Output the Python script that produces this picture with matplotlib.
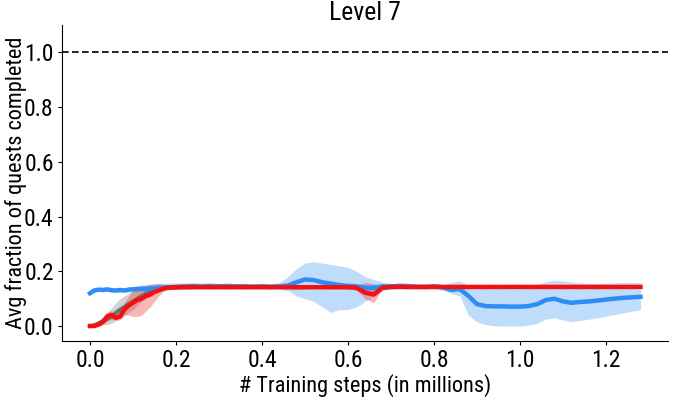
import matplotlib
matplotlib.use("Agg")
import matplotlib.pyplot as plt
import numpy as np

plt.rcParams['font.family'] = ['Roboto Condensed', 'DejaVu Sans']

steps = [0.00, 0.01, 0.02, 0.03, 0.04, 0.05, 0.06, 0.07, 0.08, 0.09, 0.10, 0.11, 0.12, 0.13, 0.14,
         0.15, 0.16, 0.17, 0.18, 0.20, 0.22, 0.24, 0.26, 0.28, 0.30, 0.32, 0.34, 0.36, 0.38, 0.40,
         0.42, 0.44, 0.46, 0.48, 0.50, 0.52, 0.54, 0.56, 0.58, 0.60, 0.62, 0.64, 0.66, 0.68, 0.70,
         0.72, 0.74, 0.76, 0.78, 0.80, 0.82, 0.84, 0.86, 0.88, 0.90, 0.92, 0.94, 0.96, 0.98, 1.00,
         1.02, 1.04, 1.06, 1.08, 1.10, 1.12, 1.14, 1.16, 1.18, 1.20, 1.22, 1.24, 1.26, 1.28]

gray_mean = [0.000, 0.003, 0.010, 0.018, 0.025, 0.035, 0.048, 0.060, 0.070, 0.080, 0.090, 0.100, 0.110, 0.118, 0.125,
             0.130, 0.135, 0.138, 0.140, 0.141, 0.142, 0.142, 0.143, 0.142, 0.143, 0.142, 0.143, 0.142, 0.143, 0.143,
             0.142, 0.143, 0.142, 0.141, 0.142, 0.142, 0.143, 0.142, 0.142, 0.142, 0.141, 0.140, 0.138, 0.141, 0.142,
             0.143, 0.142, 0.143, 0.142, 0.143, 0.142, 0.142, 0.143, 0.142, 0.143, 0.142, 0.143, 0.142, 0.143, 0.143,
             0.142, 0.143, 0.142, 0.143, 0.142, 0.143, 0.142, 0.143, 0.142, 0.143, 0.142, 0.143, 0.142, 0.143]
gray_lo = [0.000, 0.000, 0.002, 0.005, 0.005, 0.010, 0.020, 0.030, 0.040, 0.050, 0.060, 0.075, 0.090, 0.100, 0.110,
           0.118, 0.125, 0.130, 0.132, 0.134, 0.135, 0.136, 0.137, 0.136, 0.137, 0.136, 0.137, 0.137, 0.137, 0.137,
           0.136, 0.137, 0.136, 0.135, 0.136, 0.136, 0.137, 0.136, 0.136, 0.135, 0.132, 0.128, 0.128, 0.134, 0.136,
           0.137, 0.136, 0.137, 0.136, 0.137, 0.136, 0.136, 0.137, 0.136, 0.137, 0.136, 0.137, 0.136, 0.137, 0.137,
           0.136, 0.137, 0.136, 0.137, 0.136, 0.137, 0.136, 0.137, 0.136, 0.137, 0.136, 0.137, 0.136, 0.137]
gray_hi = [0.002, 0.008, 0.020, 0.035, 0.050, 0.065, 0.085, 0.100, 0.110, 0.120, 0.130, 0.137, 0.142, 0.147, 0.150,
           0.150, 0.150, 0.150, 0.150, 0.149, 0.150, 0.149, 0.150, 0.149, 0.150, 0.149, 0.150, 0.149, 0.150, 0.149,
           0.149, 0.150, 0.149, 0.148, 0.149, 0.149, 0.150, 0.149, 0.149, 0.149, 0.150, 0.151, 0.149, 0.148, 0.149,
           0.150, 0.149, 0.150, 0.149, 0.150, 0.149, 0.149, 0.150, 0.149, 0.150, 0.149, 0.150, 0.149, 0.150, 0.150,
           0.149, 0.150, 0.149, 0.150, 0.149, 0.150, 0.149, 0.150, 0.149, 0.150, 0.149, 0.150, 0.149, 0.150]

blue_mean = [0.120, 0.130, 0.133, 0.132, 0.134, 0.131, 0.130, 0.132, 0.130, 0.133, 0.134, 0.135, 0.137, 0.135, 0.137,
             0.138, 0.140, 0.140, 0.142, 0.143, 0.145, 0.146, 0.145, 0.146, 0.145, 0.146, 0.145, 0.145, 0.144, 0.145,
             0.144, 0.145, 0.148, 0.160, 0.170, 0.168, 0.160, 0.155, 0.150, 0.147, 0.145, 0.140, 0.140, 0.145, 0.145,
             0.147, 0.146, 0.143, 0.143, 0.145, 0.142, 0.132, 0.135, 0.110, 0.080, 0.073, 0.072, 0.072, 0.071, 0.071,
             0.073, 0.080, 0.095, 0.100, 0.090, 0.085, 0.088, 0.090, 0.093, 0.097, 0.100, 0.103, 0.105, 0.107]
blue_lo = [0.115, 0.123, 0.126, 0.125, 0.127, 0.124, 0.123, 0.124, 0.122, 0.124, 0.125, 0.126, 0.127, 0.126, 0.128,
           0.129, 0.131, 0.132, 0.134, 0.135, 0.136, 0.137, 0.136, 0.137, 0.136, 0.137, 0.136, 0.136, 0.135, 0.136,
           0.135, 0.134, 0.130, 0.110, 0.100, 0.090, 0.070, 0.050, 0.060, 0.060, 0.070, 0.090, 0.110, 0.130, 0.135,
           0.137, 0.136, 0.135, 0.135, 0.136, 0.130, 0.120, 0.110, 0.040, 0.015, 0.005, 0.001, 0.000, 0.000, 0.000,
           0.003, 0.010, 0.025, 0.030, 0.022, 0.016, 0.020, 0.025, 0.030, 0.036, 0.042, 0.048, 0.054, 0.060]
blue_hi = [0.125, 0.137, 0.140, 0.140, 0.141, 0.139, 0.139, 0.140, 0.140, 0.143, 0.145, 0.147, 0.150, 0.152, 0.154,
           0.155, 0.156, 0.156, 0.157, 0.158, 0.157, 0.158, 0.157, 0.158, 0.156, 0.157, 0.156, 0.156, 0.155, 0.156,
           0.155, 0.158, 0.180, 0.210, 0.230, 0.235, 0.230, 0.225, 0.220, 0.215, 0.200, 0.180, 0.170, 0.160, 0.155,
           0.156, 0.155, 0.153, 0.153, 0.155, 0.150, 0.160, 0.165, 0.150, 0.145, 0.140, 0.140, 0.140, 0.140, 0.140,
           0.145, 0.152, 0.162, 0.168, 0.165, 0.160, 0.158, 0.156, 0.156, 0.157, 0.158, 0.160, 0.160, 0.158]

red_mean = [0.000, 0.000, 0.005, 0.015, 0.035, 0.040, 0.030, 0.035, 0.060, 0.075, 0.085, 0.095, 0.100, 0.110, 0.115,
            0.125, 0.130, 0.137, 0.140, 0.142, 0.142, 0.142, 0.142, 0.142, 0.142, 0.142, 0.142, 0.142, 0.142, 0.142,
            0.142, 0.142, 0.142, 0.142, 0.142, 0.142, 0.142, 0.142, 0.142, 0.142, 0.140, 0.122, 0.115, 0.140, 0.143,
            0.143, 0.143, 0.143, 0.143, 0.143, 0.143, 0.143, 0.143, 0.143, 0.143, 0.143, 0.143, 0.143, 0.143, 0.143,
            0.143, 0.143, 0.143, 0.143, 0.143, 0.143, 0.143, 0.143, 0.143, 0.143, 0.143, 0.143, 0.143, 0.143]
red_lo = [0.000, 0.000, 0.000, 0.005, 0.020, 0.025, 0.020, 0.022, 0.040, 0.040, 0.035, 0.035, 0.040, 0.055, 0.070,
          0.090, 0.110, 0.125, 0.133, 0.138, 0.139, 0.139, 0.139, 0.139, 0.139, 0.139, 0.139, 0.139, 0.139, 0.139,
          0.139, 0.139, 0.139, 0.139, 0.139, 0.139, 0.139, 0.139, 0.139, 0.139, 0.130, 0.100, 0.085, 0.135, 0.140,
          0.140, 0.140, 0.140, 0.140, 0.140, 0.140, 0.140, 0.140, 0.140, 0.140, 0.140, 0.140, 0.140, 0.140, 0.140,
          0.140, 0.140, 0.140, 0.140, 0.140, 0.140, 0.140, 0.140, 0.140, 0.140, 0.140, 0.140, 0.140, 0.140]
red_hi = [0.003, 0.005, 0.012, 0.028, 0.050, 0.055, 0.050, 0.060, 0.085, 0.110, 0.130, 0.140, 0.145, 0.148, 0.152,
          0.154, 0.155, 0.153, 0.150, 0.146, 0.145, 0.145, 0.145, 0.145, 0.145, 0.145, 0.145, 0.145, 0.145, 0.145,
          0.145, 0.145, 0.145, 0.145, 0.145, 0.145, 0.145, 0.145, 0.145, 0.145, 0.150, 0.160, 0.155, 0.145, 0.146,
          0.146, 0.146, 0.146, 0.146, 0.146, 0.146, 0.146, 0.146, 0.146, 0.146, 0.146, 0.146, 0.146, 0.146, 0.146,
          0.146, 0.146, 0.146, 0.146, 0.146, 0.146, 0.146, 0.146, 0.146, 0.146, 0.146, 0.146, 0.146, 0.146]

target_level = 1.0
x_ticks = [0.0, 0.2, 0.4, 0.6, 0.8, 1.0, 1.2]
y_ticks = [0.0, 0.2, 0.4, 0.6, 0.8, 1.0]

fig = plt.figure(figsize=(6.77, 3.98), dpi=100)
ax = fig.add_axes([0.0916, 0.143, 0.895, 0.794])

ax.fill_between(steps, gray_lo, gray_hi, color='#7f7f7f', alpha=0.35, linewidth=0)
ax.plot(steps, gray_mean, color='#6e6e6e', linewidth=2.8)
ax.fill_between(steps, blue_lo, blue_hi, color='#2e8df5', alpha=0.3, linewidth=0)
ax.plot(steps, blue_mean, color='#2e8df5', linewidth=3.2)
ax.fill_between(steps, red_lo, red_hi, color='#f03030', alpha=0.35, linewidth=0)
ax.plot(steps, red_mean, color='#f51010', linewidth=3.2)

ax.axhline(target_level, color='black', linestyle=(0, (4, 2)), linewidth=1.2)

ax.set_xlim(-0.065, 1.344)
ax.set_ylim(-0.055, 1.10)
ax.set_xticks(x_ticks)
ax.set_yticks(y_ticks)
ax.set_xticklabels([f"{v:.1f}" for v in x_ticks])
ax.set_yticklabels([f"{v:.1f}" for v in y_ticks])
ax.tick_params(labelsize=17, length=3, pad=3)
ax.set_xlabel("# Training steps (in millions)", fontsize=16, labelpad=1)
ax.set_ylabel("Avg fraction of quests completed", fontsize=16)
ax.yaxis.set_label_coords(-0.058, 0.5)
ax.set_title("Level 7", fontsize=18.5, pad=-2.5)
ax.spines['top'].set_visible(False)
ax.spines['right'].set_visible(False)

fig.savefig("out.png", dpi=100)
